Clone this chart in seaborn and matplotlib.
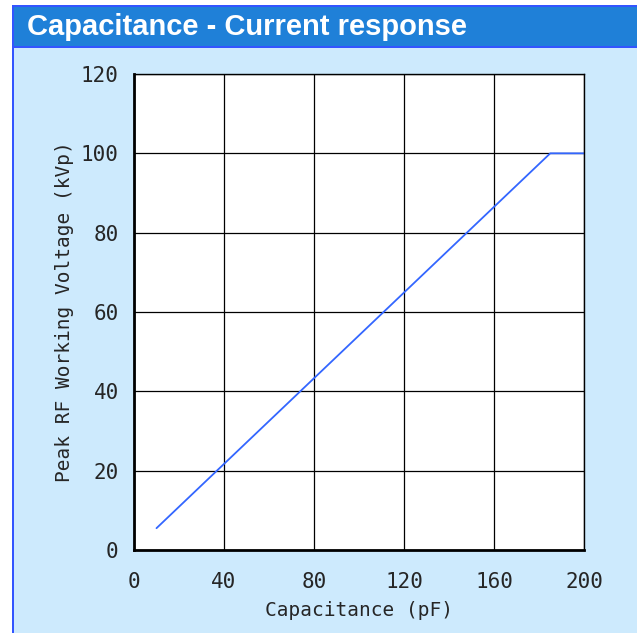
import seaborn as sns
import matplotlib.pyplot as plt
import pandas as pd
from matplotlib.patches import Rectangle

# data
capacitance = [10, 185, 200]
voltage     = [5.5, 100, 100]
x_ticks     = [0, 40, 80, 120, 160, 200]
y_ticks     = [0, 20, 40, 60, 80, 100, 120]
title       = 'Capacitance - Current response'

df = pd.DataFrame({'cap': capacitance, 'volt': voltage})

sns.set_style('white')
plt.rcParams['font.family'] = ['DejaVu Sans Mono']

W, H = 637, 633
fig = plt.figure(figsize = (W / 100, H / 100), dpi = 100)
fig.patch.set_facecolor('white')

# light blue panel, header bar and border
border = '#3355ff'
fig.patches.append(Rectangle((12 / W, 0), 1, 1 - 7 / H, transform = fig.transFigure,
                             facecolor = '#cdeafd', edgecolor = 'none', zorder = 0))
fig.patches.append(Rectangle((12 / W, 1 - 46 / H), 1, 40 / H, transform = fig.transFigure,
                             facecolor = '#1f80d8', edgecolor = 'none', zorder = 1))
fig.patches.append(Rectangle((12 / W, 0), 2.5 / W, 1 - 5 / H, transform = fig.transFigure,
                             facecolor = border, edgecolor = 'none', zorder = 2))
fig.patches.append(Rectangle((12 / W, 1 - 7 / H), 1, 2 / H, transform = fig.transFigure,
                             facecolor = border, edgecolor = 'none', zorder = 2))
fig.patches.append(Rectangle((12 / W, 1 - 48 / H), 1, 2 / H, transform = fig.transFigure,
                             facecolor = border, edgecolor = 'none', zorder = 2))
fig.text(27 / W, 1 - 27 / H, title, color = 'white', fontsize = 21, fontweight = 'bold',
         family = 'Liberation Sans', va = 'center', ha = 'left', zorder = 3)

ax = fig.add_axes([134 / W, 1 - 550 / H, 450 / W, 476 / H])
ax.set_zorder(5)
ax.set_facecolor('white')
sns.lineplot(data = df, x = 'cap', y = 'volt', ax = ax, color = '#3366ff', linewidth = 1.3)

ax.set_xlim(0, 200)
ax.set_ylim(0, 120)
ax.set_xticks(x_ticks)
ax.set_yticks(y_ticks)
ax.grid(True, color = 'black', linewidth = 0.9)
ax.set_axisbelow(True)
for s in ax.spines.values():
    s.set_color('black')
    s.set_linewidth(1.0)
ax.spines['left'].set_linewidth(2)
ax.spines['bottom'].set_linewidth(2)
ax.tick_params(labelsize = 15, length = 0)
ax.tick_params(axis = 'x', pad = 16)
ax.tick_params(axis = 'y', pad = 11)
ax.set_xlabel('Capacitance (pF)', fontsize = 14, labelpad = 6)
ax.set_ylabel('Peak RF Working Voltage (kVp)', fontsize = 14, labelpad = 5)

plt.savefig('out.png', dpi = 100)
